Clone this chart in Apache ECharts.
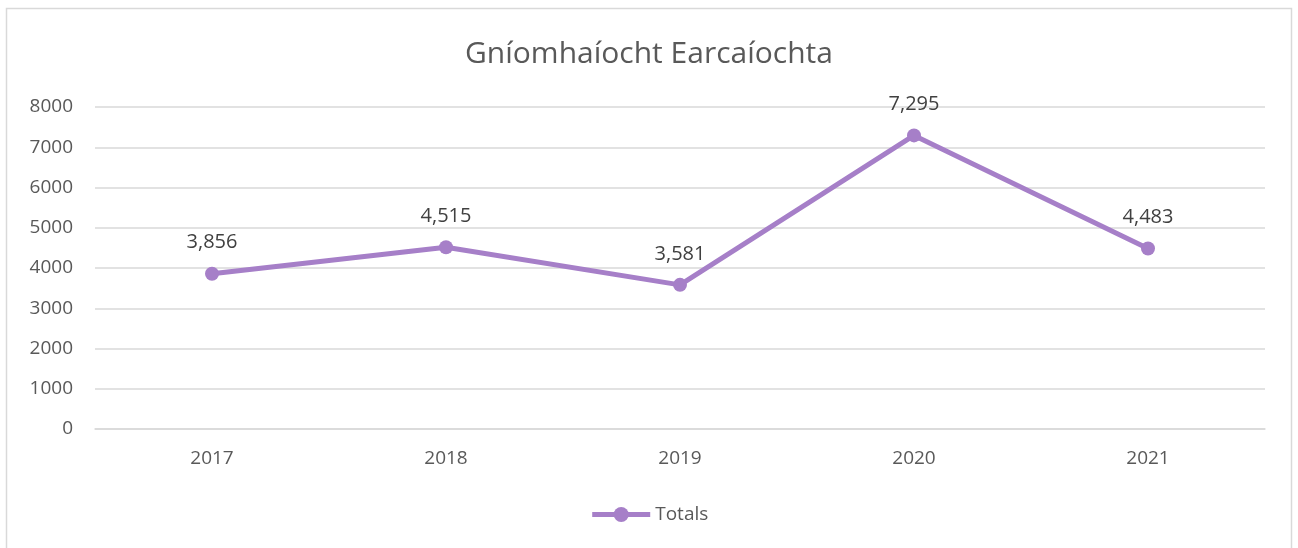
<!DOCTYPE html>
<html>
<head>
<meta charset="utf-8">
<title>Gníomhaíocht Earcaíochta</title>
<script src="https://cdn.jsdelivr.net/npm/echarts@6/dist/echarts.min.js"></script>
<style>
  html, body { margin: 0; padding: 0; background: #fff; }
  #chart { width: 1298px; height: 548px; }
</style>
</head>
<body>
<div id="chart"></div>
<script>
var years = ['2017', '2018', '2019', '2020', '2021'];
var totals = [3856, 4515, 3581, 7295, 4483];
var yTicks = [0, 1000, 2000, 3000, 4000, 5000, 6000, 7000, 8000];

var font = '"Open Sans", "Noto Sans", sans-serif';
var chart = echarts.init(document.getElementById('chart'));
chart.setOption({
    animation: false,
    backgroundColor: '#fff',
    graphic: [{
        type: 'rect',
        shape: { x: 6.5, y: 8.5, width: 1285, height: 545 },
        style: { fill: 'none', stroke: '#d9d9d9', lineWidth: 1.5 },
        silent: true
    }],
    title: {
        text: 'Gníomhaíocht Earcaíochta',
        left: 'center',
        top: 34,
        textStyle: { fontFamily: font, fontSize: 30, fontWeight: 'normal', color: '#595959' }
    },
    legend: {
        bottom: 19,
        left: 'center',
        itemWidth: 58,
        itemHeight: 19,
        itemGap: 4,
        textStyle: { fontFamily: font, fontSize: 19, color: '#595959' },
        itemStyle: { color: '#a67fc8' },
        lineStyle: { color: '#a67fc8', width: 5 },
        data: ['Totals']
    },
    grid: { left: 95, right: 33, top: 107, bottom: 119 },
    xAxis: {
        type: 'category',
        data: years,
        boundaryGap: true,
        axisLine: { lineStyle: { color: '#d9d9d9', width: 1.5 } },
        axisTick: { show: false },
        axisLabel: { fontFamily: font, fontSize: 19, color: '#595959', margin: 20 }
    },
    yAxis: {
        type: 'value',
        min: yTicks[0],
        max: yTicks[yTicks.length - 1],
        interval: 1000,
        axisLine: { show: false },
        axisTick: { show: false },
        splitLine: { lineStyle: { color: '#d9d9d9', width: 1.5 } },
        axisLabel: {
            fontFamily: font, fontSize: 19, color: '#595959', margin: 22,
            formatter: function (v) { return String(v); }
        }
    },
    series: [{
        name: 'Totals',
        type: 'line',
        data: totals,
        symbol: 'circle',
        symbolSize: 14,
        itemStyle: { color: '#a67fc8' },
        lineStyle: { color: '#a67fc8', width: 5 },
        label: {
            show: true,
            position: 'top',
            distance: 14,
            fontFamily: font,
            fontSize: 20,
            color: '#404040',
            formatter: function (p) { return p.value.toLocaleString('en-US'); }
        }
    }]
});
</script>
</body>
</html>
